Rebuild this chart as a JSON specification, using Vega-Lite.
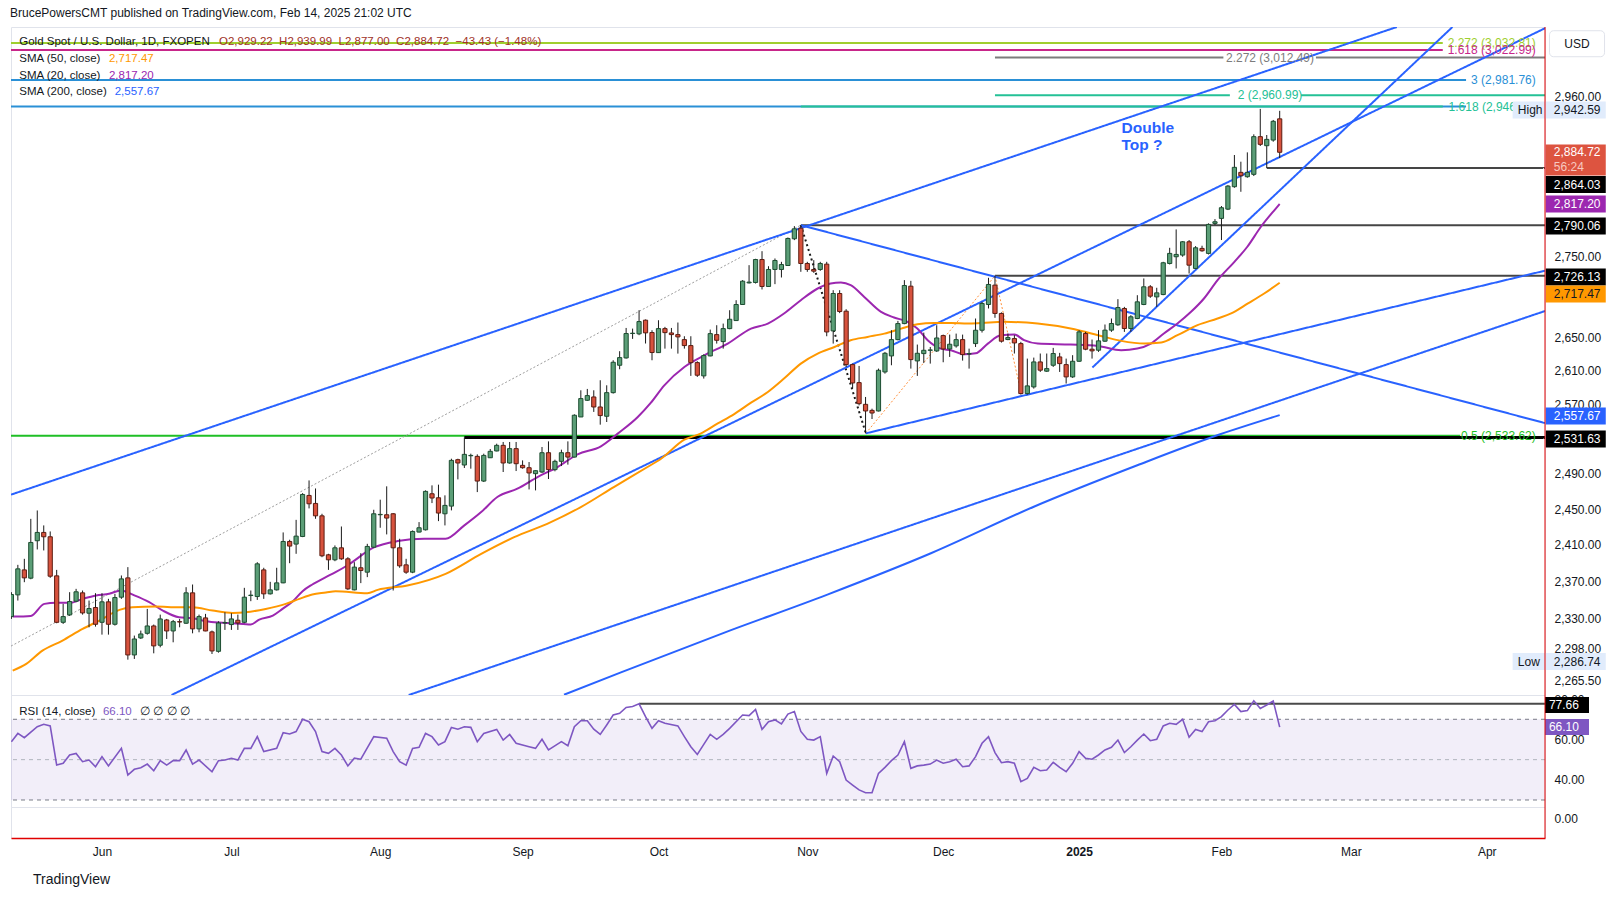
{
"$schema": "https://vega.github.io/schema/vega-lite/v6.json",
"autosize": {"type": "pad"},
"padding": {"left": 10, "top": 7, "right": 5, "bottom": 5},
"background": "white",
"title": {"text": "BrucePowersCMT published on TradingView.com, Feb 14, 2025 21:02 UTC", "anchor": "start", "offset": 6, "fontSize": 12, "font": "Liberation Sans", "fontWeight": "normal", "color": "#131722"},
"config": {
  "view": {"stroke": "#e0e3eb", "strokeWidth": 1},
  "axis": {"grid": false, "ticks": false, "tickSize": 0, "domain": false, "labelFont": "Liberation Sans", "labelFontSize": 12, "labelColor": "#131722", "labelOverlap": false, "title": null},
  "text": {"font": "Liberation Sans"}
},
"datasets": {
  "bars": [
{"i":-14,"o":2332.3,"h":2358.5,"l":2329.8,"c":2356.0},
{"i":-13,"o":2355.6,"h":2388.2,"l":2349.5,"c":2383.8},
{"i":-12,"o":2382.7,"h":2394.8,"l":2369.3,"c":2374.0},
{"i":-11,"o":2373.7,"h":2439.0,"l":2372.5,"c":2412.8},
{"i":-10,"o":2414.7,"h":2448.4,"l":2405.1,"c":2423.9},
{"i":-9,"o":2423.9,"h":2431.7,"l":2404.0,"c":2419.1},
{"i":-8,"o":2419.1,"h":2425.0,"l":2374.0,"c":2375.8},
{"i":-7,"o":2376.2,"h":2382.7,"l":2325.2,"c":2326.2},
{"i":-6,"o":2326.2,"h":2345.9,"l":2324.5,"c":2332.3},
{"i":-5,"o":2334.1,"h":2358.5,"l":2333.0,"c":2348.4},
{"i":-4,"o":2348.8,"h":2362.1,"l":2347.7,"c":2358.9},
{"i":-3,"o":2357.8,"h":2360.3,"l":2334.4,"c":2336.2},
{"i":-2,"o":2335.9,"h":2349.5,"l":2320.9,"c":2340.9},
{"i":-1,"o":2342.0,"h":2357.4,"l":2321.6,"c":2324.1},
{"i":0,"o":2326.2,"h":2357.4,"l":2313.1,"c":2348.1},
{"i":1,"o":2348.1,"h":2351.3,"l":2313.1,"c":2324.1},
{"i":2,"o":2324.1,"h":2356.7,"l":2322.7,"c":2352.7},
{"i":3,"o":2353.1,"h":2376.6,"l":2351.3,"c":2372.9},
{"i":4,"o":2374.0,"h":2385.7,"l":2286.74,"c":2291.7},
{"i":5,"o":2291.7,"h":2312.1,"l":2287.5,"c":2308.5},
{"i":6,"o":2309.6,"h":2317.4,"l":2308.5,"c":2313.8},
{"i":7,"o":2314.5,"h":2340.5,"l":2313.1,"c":2322.3},
{"i":8,"o":2322.3,"h":2323.8,"l":2293.4,"c":2301.2},
{"i":9,"o":2301.9,"h":2334.4,"l":2299.7,"c":2329.8},
{"i":10,"o":2328.7,"h":2329.8,"l":2308.5,"c":2317.0},
{"i":11,"o":2317.0,"h":2328.7,"l":2305.0,"c":2326.9},
{"i":12,"o":2326.9,"h":2329.8,"l":2320.9,"c":2326.5},
{"i":13,"o":2325.2,"h":2363.9,"l":2324.5,"c":2357.8},
{"i":14,"o":2357.8,"h":2366.8,"l":2314.5,"c":2319.2},
{"i":15,"o":2319.2,"h":2334.4,"l":2315.6,"c":2332.3},
{"i":16,"o":2330.9,"h":2335.2,"l":2316.7,"c":2317.0},
{"i":17,"o":2316.0,"h":2317.4,"l":2292.7,"c":2295.9},
{"i":18,"o":2295.5,"h":2327.3,"l":2294.1,"c":2325.5},
{"i":19,"o":2325.5,"h":2336.9,"l":2318.1,"c":2326.0},
{"i":20,"o":2323.8,"h":2335.9,"l":2318.1,"c":2329.8},
{"i":21,"o":2328.4,"h":2334.4,"l":2318.1,"c":2325.5},
{"i":22,"o":2326.2,"h":2363.2,"l":2325.2,"c":2353.1},
{"i":23,"o":2354.9,"h":2360.3,"l":2348.8,"c":2355.3},
{"i":24,"o":2353.8,"h":2391.1,"l":2350.2,"c":2389.3},
{"i":25,"o":2382.7,"h":2385.0,"l":2351.3,"c":2356.7},
{"i":26,"o":2356.7,"h":2369.7,"l":2356.0,"c":2361.0},
{"i":27,"o":2361.0,"h":2385.0,"l":2360.3,"c":2368.6},
{"i":28,"o":2368.6,"h":2423.9,"l":2368.2,"c":2413.9},
{"i":29,"o":2413.9,"h":2415.8,"l":2390.0,"c":2408.8},
{"i":30,"o":2411.0,"h":2437.9,"l":2400.3,"c":2419.8},
{"i":31,"o":2419.4,"h":2467.9,"l":2418.7,"c":2466.4},
{"i":32,"o":2465.3,"h":2482.3,"l":2450.7,"c":2455.9},
{"i":33,"o":2456.3,"h":2473.2,"l":2439.1,"c":2442.4},
{"i":34,"o":2442.4,"h":2444.7,"l":2396.6,"c":2398.1},
{"i":35,"o":2399.2,"h":2400.3,"l":2382.7,"c":2393.7},
{"i":36,"o":2393.7,"h":2409.5,"l":2392.2,"c":2406.9},
{"i":37,"o":2406.9,"h":2430.5,"l":2393.7,"c":2394.8},
{"i":38,"o":2394.8,"h":2396.6,"l":2361.0,"c":2362.1},
{"i":39,"o":2361.0,"h":2391.1,"l":2360.5,"c":2385.7},
{"i":40,"o":2385.0,"h":2401.0,"l":2368.3,"c":2382.0},
{"i":41,"o":2380.2,"h":2411.3,"l":2374.8,"c":2408.4},
{"i":42,"o":2407.6,"h":2449.2,"l":2406.9,"c":2444.7},
{"i":43,"o":2443.6,"h":2460.5,"l":2429.1,"c":2444.0},
{"i":44,"o":2443.6,"h":2475.6,"l":2421.7,"c":2439.9},
{"i":45,"o":2444.7,"h":2445.5,"l":2360.3,"c":2406.9},
{"i":46,"o":2406.9,"h":2416.9,"l":2385.0,"c":2387.1},
{"i":47,"o":2388.2,"h":2394.8,"l":2378.4,"c":2380.2},
{"i":48,"o":2380.2,"h":2426.1,"l":2379.1,"c":2425.0},
{"i":49,"o":2424.3,"h":2435.4,"l":2424.0,"c":2429.1},
{"i":50,"o":2426.8,"h":2471.0,"l":2426.1,"c":2469.9},
{"i":51,"o":2467.2,"h":2476.7,"l":2456.7,"c":2462.4},
{"i":52,"o":2462.7,"h":2477.5,"l":2436.5,"c":2445.5},
{"i":53,"o":2444.7,"h":2465.4,"l":2431.7,"c":2454.1},
{"i":54,"o":2453.3,"h":2507.1,"l":2448.5,"c":2505.2},
{"i":55,"o":2506.0,"h":2507.1,"l":2483.5,"c":2502.2},
{"i":56,"o":2499.9,"h":2531.63,"l":2496.5,"c":2512.1},
{"i":57,"o":2510.5,"h":2512.9,"l":2495.7,"c":2510.9},
{"i":58,"o":2509.8,"h":2512.1,"l":2469.1,"c":2481.6},
{"i":59,"o":2481.6,"h":2512.9,"l":2480.5,"c":2510.9},
{"i":60,"o":2508.2,"h":2518.3,"l":2507.9,"c":2515.6},
{"i":61,"o":2516.0,"h":2524.4,"l":2515.6,"c":2522.5},
{"i":62,"o":2522.5,"h":2526.4,"l":2491.9,"c":2502.2},
{"i":63,"o":2502.2,"h":2526.4,"l":2501.4,"c":2518.7},
{"i":64,"o":2518.7,"h":2526.4,"l":2493.0,"c":2501.4},
{"i":65,"o":2499.5,"h":2505.2,"l":2495.7,"c":2496.8},
{"i":66,"o":2496.8,"h":2503.3,"l":2472.1,"c":2490.8},
{"i":67,"o":2490.0,"h":2493.8,"l":2471.0,"c":2493.4},
{"i":68,"o":2491.9,"h":2520.6,"l":2490.8,"c":2514.0},
{"i":69,"o":2514.0,"h":2527.1,"l":2483.9,"c":2494.6},
{"i":70,"o":2494.6,"h":2506.0,"l":2492.7,"c":2504.1},
{"i":71,"o":2504.1,"h":2517.5,"l":2498.7,"c":2514.0},
{"i":72,"o":2514.0,"h":2527.1,"l":2500.3,"c":2509.0},
{"i":73,"o":2509.0,"h":2558.6,"l":2508.6,"c":2557.5},
{"i":74,"o":2555.5,"h":2586.9,"l":2555.5,"c":2577.1},
{"i":75,"o":2575.1,"h":2588.5,"l":2574.3,"c":2580.6},
{"i":76,"o":2579.0,"h":2586.9,"l":2561.4,"c":2567.2},
{"i":77,"o":2567.2,"h":2598.8,"l":2546.5,"c":2557.1},
{"i":78,"o":2556.3,"h":2592.8,"l":2549.6,"c":2584.1},
{"i":79,"o":2584.1,"h":2622.7,"l":2583.0,"c":2620.3},
{"i":80,"o":2616.7,"h":2633.6,"l":2611.9,"c":2625.9},
{"i":81,"o":2625.5,"h":2661.8,"l":2624.7,"c":2655.0},
{"i":82,"o":2655.0,"h":2661.0,"l":2648.5,"c":2655.4},
{"i":83,"o":2654.6,"h":2683.5,"l":2653.0,"c":2669.6},
{"i":84,"o":2671.3,"h":2672.1,"l":2642.9,"c":2655.8},
{"i":85,"o":2656.2,"h":2659.0,"l":2622.7,"c":2632.0},
{"i":86,"o":2631.9,"h":2671.2,"l":2631.5,"c":2661.0},
{"i":87,"o":2661.0,"h":2663.1,"l":2636.7,"c":2656.1},
{"i":88,"o":2655.7,"h":2661.8,"l":2636.7,"c":2653.7},
{"i":89,"o":2653.7,"h":2668.4,"l":2630.7,"c":2650.9},
{"i":90,"o":2647.6,"h":2651.7,"l":2636.7,"c":2640.4},
{"i":91,"o":2640.4,"h":2651.7,"l":2604.0,"c":2619.9},
{"i":92,"o":2619.9,"h":2621.5,"l":2602.8,"c":2604.8},
{"i":93,"o":2604.0,"h":2629.9,"l":2600.8,"c":2628.3},
{"i":94,"o":2627.9,"h":2659.8,"l":2627.5,"c":2654.9},
{"i":95,"o":2653.7,"h":2665.1,"l":2642.8,"c":2646.8},
{"i":96,"o":2645.2,"h":2667.1,"l":2636.7,"c":2661.0},
{"i":97,"o":2661.0,"h":2683.5,"l":2660.2,"c":2672.4},
{"i":98,"o":2670.8,"h":2695.8,"l":2670.4,"c":2690.5},
{"i":99,"o":2690.5,"h":2720.7,"l":2690.5,"c":2719.4},
{"i":100,"o":2717.3,"h":2739.4,"l":2716.5,"c":2718.2},
{"i":101,"o":2717.8,"h":2747.4,"l":2716.5,"c":2746.5},
{"i":102,"o":2746.5,"h":2757.0,"l":2709.1,"c":2712.8},
{"i":103,"o":2712.8,"h":2738.1,"l":2712.4,"c":2734.0},
{"i":104,"o":2734.0,"h":2747.8,"l":2715.7,"c":2745.3},
{"i":105,"o":2734.0,"h":2743.6,"l":2724.0,"c":2740.2},
{"i":106,"o":2739.0,"h":2774.3,"l":2738.5,"c":2773.1},
{"i":107,"o":2772.7,"h":2788.8,"l":2771.0,"c":2785.4},
{"i":108,"o":2786.2,"h":2790.06,"l":2731.1,"c":2741.5},
{"i":109,"o":2741.5,"h":2743.6,"l":2731.1,"c":2734.0},
{"i":110,"o":2734.0,"h":2745.7,"l":2729.8,"c":2731.9},
{"i":111,"o":2734.0,"h":2743.6,"l":2732.3,"c":2741.5},
{"i":112,"o":2740.7,"h":2743.6,"l":2651.7,"c":2656.9},
{"i":113,"o":2658.2,"h":2708.2,"l":2642.8,"c":2704.1},
{"i":114,"o":2704.1,"h":2708.2,"l":2679.9,"c":2681.9},
{"i":115,"o":2682.3,"h":2684.7,"l":2614.7,"c":2617.5},
{"i":116,"o":2617.5,"h":2618.7,"l":2588.9,"c":2595.6},
{"i":117,"o":2596.0,"h":2615.9,"l":2569.1,"c":2571.1},
{"i":118,"o":2570.3,"h":2579.0,"l":2536.4,"c":2562.5},
{"i":119,"o":2563.2,"h":2565.2,"l":2553.1,"c":2560.1},
{"i":120,"o":2562.5,"h":2612.7,"l":2562.0,"c":2610.7},
{"i":121,"o":2608.7,"h":2632.7,"l":2606.7,"c":2631.1},
{"i":122,"o":2627.9,"h":2659.0,"l":2616.7,"c":2647.6},
{"i":123,"o":2647.6,"h":2670.4,"l":2646.8,"c":2667.1},
{"i":124,"o":2667.1,"h":2720.7,"l":2666.3,"c":2714.0},
{"i":125,"o":2713.2,"h":2719.8,"l":2612.7,"c":2623.5},
{"i":126,"o":2621.9,"h":2641.6,"l":2604.0,"c":2631.1},
{"i":127,"o":2630.7,"h":2656.1,"l":2619.5,"c":2634.7},
{"i":128,"o":2634.7,"h":2638.7,"l":2618.7,"c":2635.1},
{"i":129,"o":2633.9,"h":2665.1,"l":2632.7,"c":2649.6},
{"i":130,"o":2652.5,"h":2653.7,"l":2620.3,"c":2636.3},
{"i":131,"o":2636.3,"h":2653.7,"l":2626.7,"c":2642.0},
{"i":132,"o":2640.0,"h":2654.9,"l":2637.9,"c":2647.6},
{"i":133,"o":2647.6,"h":2653.7,"l":2622.3,"c":2629.5},
{"i":134,"o":2630.3,"h":2636.7,"l":2612.7,"c":2630.7},
{"i":135,"o":2642.8,"h":2673.3,"l":2638.7,"c":2659.0},
{"i":136,"o":2659.0,"h":2693.8,"l":2656.2,"c":2691.8},
{"i":137,"o":2690.5,"h":2723.6,"l":2685.6,"c":2715.3},
{"i":138,"o":2714.5,"h":2726.13,"l":2674.2,"c":2679.5},
{"i":139,"o":2679.5,"h":2680.8,"l":2644.0,"c":2645.7},
{"i":140,"o":2647.7,"h":2655.0,"l":2646.9,"c":2650.1},
{"i":141,"o":2648.9,"h":2653.0,"l":2630.8,"c":2643.6},
{"i":142,"o":2642.8,"h":2644.9,"l":2581.8,"c":2583.0},
{"i":143,"o":2583.0,"h":2624.7,"l":2581.8,"c":2592.1},
{"i":144,"o":2590.9,"h":2625.9,"l":2588.9,"c":2620.7},
{"i":145,"o":2620.7,"h":2630.8,"l":2608.7,"c":2610.8},
{"i":146,"o":2609.6,"h":2630.8,"l":2608.7,"c":2612.7},
{"i":147,"o":2616.7,"h":2637.6,"l":2614.7,"c":2630.8},
{"i":148,"o":2626.7,"h":2631.6,"l":2608.7,"c":2618.7},
{"i":149,"o":2617.5,"h":2624.7,"l":2594.9,"c":2602.8},
{"i":150,"o":2602.8,"h":2628.8,"l":2601.6,"c":2621.5},
{"i":151,"o":2621.5,"h":2659.1,"l":2620.7,"c":2657.0},
{"i":152,"o":2655.0,"h":2657.0,"l":2634.8,"c":2636.0},
{"i":153,"o":2636.0,"h":2647.7,"l":2624.7,"c":2634.0},
{"i":154,"o":2634.8,"h":2659.1,"l":2632.8,"c":2646.1},
{"i":155,"o":2645.7,"h":2666.0,"l":2644.9,"c":2659.1},
{"i":156,"o":2659.1,"h":2673.3,"l":2657.0,"c":2667.2},
{"i":157,"o":2665.6,"h":2697.1,"l":2664.4,"c":2686.8},
{"i":158,"o":2685.6,"h":2687.6,"l":2657.0,"c":2661.1},
{"i":159,"o":2661.1,"h":2677.4,"l":2657.0,"c":2675.4},
{"i":160,"o":2673.3,"h":2702.0,"l":2672.5,"c":2693.8},
{"i":161,"o":2690.5,"h":2722.8,"l":2689.7,"c":2712.4},
{"i":162,"o":2712.4,"h":2714.5,"l":2698.7,"c":2700.8},
{"i":163,"o":2699.9,"h":2711.2,"l":2687.6,"c":2704.9},
{"i":164,"o":2702.8,"h":2743.6,"l":2702.0,"c":2742.4},
{"i":165,"o":2741.5,"h":2761.3,"l":2740.3,"c":2754.2},
{"i":166,"o":2750.0,"h":2784.6,"l":2735.3,"c":2752.9},
{"i":167,"o":2752.1,"h":2769.8,"l":2750.0,"c":2768.9},
{"i":168,"o":2768.9,"h":2771.1,"l":2728.9,"c":2739.4},
{"i":169,"o":2735.3,"h":2763.4,"l":2734.4,"c":2761.3},
{"i":170,"o":2760.5,"h":2763.9,"l":2756.3,"c":2757.5},
{"i":171,"o":2754.2,"h":2792.3,"l":2752.9,"c":2791.0},
{"i":172,"o":2792.3,"h":2797.8,"l":2790.2,"c":2794.4},
{"i":173,"o":2798.7,"h":2814.6,"l":2771.1,"c":2812.4},
{"i":174,"o":2810.6,"h":2841.7,"l":2809.4,"c":2840.4},
{"i":175,"o":2839.6,"h":2881.1,"l":2838.2,"c":2864.9},
{"i":176,"o":2858.3,"h":2872.3,"l":2833.0,"c":2853.9},
{"i":177,"o":2852.6,"h":2884.6,"l":2851.3,"c":2858.3},
{"i":178,"o":2855.7,"h":2908.5,"l":2853.5,"c":2905.4},
{"i":179,"o":2905.4,"h":2942.59,"l":2893.0,"c":2895.2},
{"i":180,"o":2893.4,"h":2907.6,"l":2864.03,"c":2901.8},
{"i":181,"o":2900.9,"h":2927.7,"l":2898.7,"c":2925.9},
{"i":182,"o":2929.22,"h":2939.99,"l":2877.0,"c":2884.72}
  ],
  "sma": [
{"i":-13.8,"m":"20","v":2332.3},{"i":-11,"m":"20","v":2333.0},{"i":-8.9,"m":"20","v":2345.9},{"i":-7.1,"m":"20","v":2347.0},{"i":-5,"m":"20","v":2347.0},{"i":-3,"m":"20","v":2351.3},{"i":-0.9,"m":"20","v":2355.0},{"i":1.1,"m":"20","v":2356.7},{"i":2.9,"m":"20","v":2360.3},{"i":5,"m":"20","v":2355.0},{"i":7.3,"m":"20","v":2347.7},{"i":9.4,"m":"20","v":2338.7},{"i":11.9,"m":"20","v":2331.6},{"i":14,"m":"20","v":2330.5},{"i":16.1,"m":"20","v":2327.3},{"i":18.1,"m":"20","v":2325.9},{"i":20.2,"m":"20","v":2325.2},{"i":23,"m":"20","v":2323.8},{"i":24.3,"m":"20","v":2329.1},{"i":26.4,"m":"20","v":2333.4},{"i":27.9,"m":"20","v":2340.5},{"i":29.5,"m":"20","v":2348.8},{"i":31,"m":"20","v":2359.6},{"i":32.5,"m":"20","v":2366.8},{"i":34.6,"m":"20","v":2374.8},{"i":36.1,"m":"20","v":2380.2},{"i":37.9,"m":"20","v":2387.5},{"i":42.1,"m":"20","v":2407.6},{"i":45.7,"m":"20","v":2414.3},{"i":49.8,"m":"20","v":2416.9},{"i":53.1,"m":"20","v":2416.9},{"i":56,"m":"20","v":2431.7},{"i":58.6,"m":"20","v":2446.6},{"i":61.1,"m":"20","v":2463.5},{"i":64.2,"m":"20","v":2472.9},{"i":67.3,"m":"20","v":2486.2},{"i":70.4,"m":"20","v":2497.6},{"i":73.5,"m":"20","v":2512.1},{"i":77.1,"m":"20","v":2521.4},{"i":79.7,"m":"20","v":2536.1},{"i":82.8,"m":"20","v":2555.5},{"i":84.8,"m":"20","v":2572.0},{"i":86.9,"m":"20","v":2592.8},{"i":90,"m":"20","v":2614.7},{"i":93.1,"m":"20","v":2628.7},{"i":96.7,"m":"20","v":2642.8},{"i":100.3,"m":"20","v":2661.0},{"i":102.9,"m":"20","v":2667.1},{"i":105.4,"m":"20","v":2679.4},{"i":108,"m":"20","v":2695.8},{"i":110.6,"m":"20","v":2710.3},{"i":112.6,"m":"20","v":2716.5},{"i":114.2,"m":"20","v":2717.7},{"i":115.7,"m":"20","v":2714.4},{"i":117.8,"m":"20","v":2699.9},{"i":120.4,"m":"20","v":2681.5},{"i":122.4,"m":"20","v":2674.5},{"i":124.5,"m":"20","v":2669.2},{"i":126,"m":"20","v":2661.0},{"i":127.6,"m":"20","v":2646.8},{"i":129.6,"m":"20","v":2636.7},{"i":131.2,"m":"20","v":2634.7},{"i":133.2,"m":"20","v":2629.9},{"i":135,"m":"20","v":2631.0},{"i":136.9,"m":"20","v":2642.8},{"i":138.9,"m":"20","v":2653.0},{"i":141,"m":"20","v":2653.8},{"i":142.5,"m":"20","v":2646.9},{"i":144.6,"m":"20","v":2642.8},{"i":149.7,"m":"20","v":2641.6},{"i":153.9,"m":"20","v":2640.0},{"i":157.5,"m":"20","v":2634.8},{"i":160,"m":"20","v":2636.8},{"i":162.1,"m":"20","v":2642.8},{"i":164.1,"m":"20","v":2655.0},{"i":166.2,"m":"20","v":2667.2},{"i":168.3,"m":"20","v":2681.5},{"i":170.3,"m":"20","v":2697.9},{"i":172.4,"m":"20","v":2720.7},{"i":175,"m":"20","v":2743.6},{"i":177,"m":"20","v":2762.6},{"i":179.1,"m":"20","v":2788.0},{"i":181.2,"m":"20","v":2809.4},{"i":182,"m":"20","v":2817.2},
{"i":-13.8,"m":"50","v":2275.3},{"i":-11.7,"m":"50","v":2282.3},{"i":-9.2,"m":"50","v":2296.2},{"i":-6.1,"m":"50","v":2306.8},{"i":-3,"m":"50","v":2319.2},{"i":-0.4,"m":"50","v":2328.0},{"i":2.7,"m":"50","v":2339.5},{"i":4.7,"m":"50","v":2342.3},{"i":8.3,"m":"50","v":2343.0},{"i":11.9,"m":"50","v":2342.3},{"i":14,"m":"50","v":2342.3},{"i":17.1,"m":"50","v":2338.7},{"i":20.2,"m":"50","v":2336.2},{"i":22.2,"m":"50","v":2336.9},{"i":25.3,"m":"50","v":2340.5},{"i":28.4,"m":"50","v":2345.9},{"i":30.5,"m":"50","v":2351.3},{"i":32.5,"m":"50","v":2356.0},{"i":34.6,"m":"50","v":2358.1},{"i":36.1,"m":"50","v":2359.6},{"i":41,"m":"50","v":2357.3},{"i":42.6,"m":"50","v":2361.0},{"i":47.2,"m":"50","v":2365.7},{"i":53.1,"m":"50","v":2378.4},{"i":58.6,"m":"50","v":2400.3},{"i":63.7,"m":"50","v":2418.7},{"i":68.8,"m":"50","v":2433.5},{"i":74,"m":"50","v":2452.2},{"i":79.1,"m":"50","v":2474.8},{"i":84.3,"m":"50","v":2497.6},{"i":86.4,"m":"50","v":2507.1},{"i":90,"m":"50","v":2529.0},{"i":92.5,"m":"50","v":2536.0},{"i":95.1,"m":"50","v":2547.6},{"i":97.7,"m":"50","v":2558.9},{"i":100.3,"m":"50","v":2572.3},{"i":102.9,"m":"50","v":2584.9},{"i":105.4,"m":"50","v":2600.8},{"i":108,"m":"50","v":2618.7},{"i":110.6,"m":"50","v":2630.7},{"i":113.2,"m":"50","v":2638.7},{"i":115.7,"m":"50","v":2646.8},{"i":118.3,"m":"50","v":2650.9},{"i":120.9,"m":"50","v":2654.9},{"i":123.5,"m":"50","v":2661.0},{"i":126,"m":"50","v":2666.3},{"i":128.6,"m":"50","v":2667.9},{"i":131.2,"m":"50","v":2667.9},{"i":133.8,"m":"50","v":2667.1},{"i":136,"m":"50","v":2667.9},{"i":139.4,"m":"50","v":2669.2},{"i":144.6,"m":"50","v":2667.2},{"i":149.7,"m":"50","v":2661.1},{"i":154.9,"m":"50","v":2650.9},{"i":157.5,"m":"50","v":2646.1},{"i":161.1,"m":"50","v":2642.8},{"i":163.7,"m":"50","v":2644.0},{"i":166.2,"m":"50","v":2653.0},{"i":169.3,"m":"50","v":2665.2},{"i":172.4,"m":"50","v":2673.3},{"i":174.5,"m":"50","v":2679.5},{"i":177.1,"m":"50","v":2691.8},{"i":179.6,"m":"50","v":2704.1},{"i":182,"m":"50","v":2717.47},
{"i":71.4,"m":"200","v":2250.3},{"i":80.2,"m":"200","v":2273.5},{"i":96.1,"m":"200","v":2315.0},{"i":112.1,"m":"200","v":2355.9},{"i":128.1,"m":"200","v":2400.9},{"i":144,"m":"200","v":2452.6},{"i":160,"m":"200","v":2499.6},{"i":172.8,"m":"200","v":2535.3},{"i":182,"m":"200","v":2557.67}
  ],
  "rsi": [
{"i":-14,"r":58.9},{"i":-13,"r":63.0},{"i":-12,"r":60.9},{"i":-10,"r":66.3},{"i":-9,"r":67.5},{"i":-8,"r":66.7},{"i":-7,"r":47.3},{"i":-6,"r":48.2},{"i":-5,"r":52.3},{"i":-4,"r":53.1},{"i":-3,"r":49.0},{"i":-2,"r":49.8},{"i":-1,"r":46.5},{"i":0,"r":51.5},{"i":1,"r":46.9},{"i":3,"r":55.6},{"i":4,"r":42.4},{"i":5,"r":45.2},{"i":6,"r":46.0},{"i":7,"r":47.8},{"i":8,"r":44.5},{"i":9,"r":49.5},{"i":10,"r":47.3},{"i":11,"r":49.5},{"i":12,"r":49.5},{"i":13,"r":54.8},{"i":14,"r":47.8},{"i":15,"r":49.8},{"i":17,"r":44.0},{"i":18,"r":49.5},{"i":19,"r":49.8},{"i":20,"r":50.7},{"i":21,"r":49.8},{"i":22,"r":55.6},{"i":23,"r":55.6},{"i":24,"r":61.4},{"i":25,"r":54.0},{"i":27,"r":55.6},{"i":28,"r":63.4},{"i":29,"r":62.7},{"i":30,"r":63.9},{"i":31,"r":70.0},{"i":32,"r":68.8},{"i":33,"r":63.9},{"i":34,"r":54.0},{"i":35,"r":53.1},{"i":36,"r":55.6},{"i":37,"r":52.3},{"i":38,"r":46.9},{"i":39,"r":50.7},{"i":40,"r":50.2},{"i":42,"r":61.4},{"i":44,"r":60.6},{"i":45,"r":54.0},{"i":46,"r":49.0},{"i":47,"r":47.3},{"i":48,"r":55.6},{"i":49,"r":56.1},{"i":50,"r":63.0},{"i":51,"r":61.4},{"i":52,"r":57.3},{"i":53,"r":58.9},{"i":54,"r":66.0},{"i":55,"r":65.1},{"i":56,"r":66.3},{"i":57,"r":66.0},{"i":58,"r":58.9},{"i":59,"r":63.0},{"i":61,"r":65.0},{"i":62,"r":59.7},{"i":63,"r":62.5},{"i":64,"r":58.1},{"i":66,"r":56.4},{"i":67,"r":55.6},{"i":68,"r":60.1},{"i":69,"r":54.8},{"i":71,"r":58.9},{"i":72,"r":56.9},{"i":73,"r":66.3},{"i":74,"r":69.3},{"i":75,"r":69.3},{"i":76,"r":65.1},{"i":77,"r":62.5},{"i":78,"r":67.2},{"i":79,"r":72.1},{"i":80,"r":73.0},{"i":81,"r":75.9},{"i":82,"r":76.3},{"i":83,"r":77.66},{"i":84,"r":71.3},{"i":85,"r":65.5},{"i":86,"r":69.3},{"i":87,"r":68.0},{"i":89,"r":66.7},{"i":90,"r":61.4},{"i":91,"r":56.4},{"i":92,"r":52.6},{"i":93,"r":57.6},{"i":94,"r":62.5},{"i":95,"r":60.1},{"i":96,"r":62.5},{"i":97,"r":65.5},{"i":99,"r":72.1},{"i":100,"r":71.8},{"i":101,"r":74.9},{"i":102,"r":65.0},{"i":103,"r":68.8},{"i":104,"r":69.7},{"i":105,"r":67.7},{"i":106,"r":72.6},{"i":107,"r":73.8},{"i":108,"r":64.0},{"i":109,"r":60.1},{"i":110,"r":59.7},{"i":111,"r":61.4},{"i":112,"r":43.2},{"i":113,"r":51.8},{"i":114,"r":49.0},{"i":115,"r":39.9},{"i":116,"r":37.4},{"i":117,"r":35.0},{"i":118,"r":33.6},{"i":119,"r":33.6},{"i":120,"r":43.2},{"i":121,"r":46.2},{"i":122,"r":49.5},{"i":123,"r":52.3},{"i":124,"r":58.9},{"i":125,"r":45.7},{"i":126,"r":46.9},{"i":127,"r":47.3},{"i":128,"r":47.8},{"i":129,"r":49.8},{"i":130,"r":48.2},{"i":131,"r":49.0},{"i":132,"r":50.2},{"i":133,"r":46.5},{"i":134,"r":46.9},{"i":135,"r":51.5},{"i":136,"r":58.1},{"i":137,"r":61.4},{"i":138,"r":53.5},{"i":139,"r":48.5},{"i":140,"r":49.0},{"i":141,"r":48.2},{"i":142,"r":39.1},{"i":143,"r":40.7},{"i":144,"r":46.2},{"i":145,"r":44.5},{"i":146,"r":44.9},{"i":147,"r":48.7},{"i":148,"r":46.2},{"i":149,"r":44.0},{"i":150,"r":48.2},{"i":151,"r":54.0},{"i":152,"r":50.7},{"i":153,"r":50.2},{"i":154,"r":52.3},{"i":155,"r":54.8},{"i":156,"r":56.1},{"i":157,"r":59.7},{"i":158,"r":53.5},{"i":159,"r":56.4},{"i":160,"r":59.7},{"i":161,"r":62.7},{"i":162,"r":59.4},{"i":163,"r":60.1},{"i":164,"r":66.7},{"i":165,"r":68.0},{"i":166,"r":67.5},{"i":167,"r":70.0},{"i":168,"r":61.1},{"i":169,"r":65.0},{"i":170,"r":63.9},{"i":171,"r":68.8},{"i":172,"r":69.3},{"i":173,"r":71.3},{"i":174,"r":74.6},{"i":175,"r":77.4},{"i":176,"r":73.8},{"i":177,"r":74.3},{"i":178,"r":79.2},{"i":179,"r":75.4},{"i":180,"r":77.1},{"i":181,"r":79.1},{"i":182,"r":66.1}
  ],
  "drawings": [
{"x0":-14.06,"p0":3032.81,"x1":207.2,"p1":3032.81,"kind":"lime"},
{"x0":-14.06,"p0":3022.99,"x1":207.2,"p1":3022.99,"kind":"magenta"},
{"x0":138,"p0":3012.49,"x1":173.3,"p1":3012.49,"kind":"gray"},
{"x0":187.6,"p0":3012.49,"x1":223,"p1":3012.49,"kind":"gray"},
{"x0":-14.06,"p0":2981.76,"x1":210.8,"p1":2981.76,"kind":"fibblue"},
{"x0":138,"p0":2960.99,"x1":174.3,"p1":2960.99,"kind":"teal"},
{"x0":185.3,"p0":2960.99,"x1":223,"p1":2960.99,"kind":"teal"},
{"x0":-14.06,"p0":2945.8,"x1":210.8,"p1":2945.8,"kind":"fibblue"},
{"x0":108,"p0":2945.8,"x1":207.2,"p1":2945.8,"kind":"teal"},
{"x0":180,"p0":2864.03,"x1":223,"p1":2864.03,"kind":"level"},
{"x0":108,"p0":2790.06,"x1":223,"p1":2790.06,"kind":"level"},
{"x0":138,"p0":2726.13,"x1":223,"p1":2726.13,"kind":"level"},
{"x0":-14.06,"p0":2533.62,"x1":209.9,"p1":2533.62,"kind":"green"},
{"x0":56,"p0":2531.63,"x1":223,"p1":2531.63,"kind":"black"},
{"x0":-14.06,"p0":2301.0,"x1":108,"p1":2790.06,"kind":"dotgray"},
{"x0":108,"p0":2790.06,"x1":118.05,"p1":2536.4,"kind":"dotblack"},
{"x0":118.05,"p0":2536.4,"x1":138,"p1":2726.13,"kind":"dotorange"},
{"x0":138,"p0":2726.13,"x1":142,"p1":2585.0,"kind":"dotorange"},
{"x0":-14.06,"p0":2466.2,"x1":200.1,"p1":3055.0,"kind":"trend"},
{"x0":10.75,"p0":2250.05,"x1":223,"p1":3053.3,"kind":"trend"},
{"x0":153.06,"p0":2614.0,"x1":208.7,"p1":3055.0,"kind":"trend"},
{"x0":118.05,"p0":2536.4,"x1":223,"p1":2732.5,"kind":"trend"},
{"x0":108,"p0":2790.06,"x1":223,"p1":2548.3,"kind":"trend"},
{"x0":47.4,"p0":2250.05,"x1":223,"p1":2682.5,"kind":"trend"}
  ]
},
"vconcat": [
{
  "width": 1534, "height": 668,
  "layer": [
    {
      "data": {"name": "drawings"},
      "mark": {"type": "rule", "clip": true},
      "encoding": {
        "x": {"field": "x0", "type": "quantitative", "scale": {"domain": [-14.06, 223], "nice": false, "zero": false, "padding": 0}, "axis": null},
        "x2": {"field": "x1"},
        "y": {"field": "p0", "type": "quantitative", "scale": {"type": "log", "domain": [2250.05, 3055.0], "nice": false, "zero": false, "padding": 0},
              "axis": {"orient": "right", "values": [2265.5, 2298, 2330, 2370, 2410, 2450, 2490, 2570, 2610, 2650, 2750, 2960], "format": ",.2f", "labelPadding": 9, "labelAlign": "left"}},
        "y2": {"field": "p1"},
        "color": {"field": "kind", "type": "nominal", "legend": null, "scale": {"domain": ["lime","magenta","gray","fibblue","teal","level","green","black","trend","dotgray","dotblack","dotorange","legend","legendred","sma20","sma50","sma200","close","lvlbox","hl"], "range": ["#9fcf2f","#c8268a","#7c7c7c","#2a90d6","#24c196","#454545","#1fbf26","#000000","#2962ff","#9e9e9e","#1a1a1a","#ff9340","#131722","#a03228","#9c27b0","#ff9800","#2962ff","#dd5440","#000000","#e1ecfc"]}},
        "strokeWidth": {"condition": [{"test": "datum.kind === 'black'", "value": 3}, {"test": "datum.kind === 'dotgray' || datum.kind === 'dotorange'", "value": 1}], "value": 2},
        "strokeDash": {"condition": [{"test": "datum.kind === 'dotblack'", "value": [2, 3]}, {"test": "datum.kind === 'dotgray' || datum.kind === 'dotorange'", "value": [2, 2]}], "value": [1, 0]}
      }
    },
    {
      "data": {"name": "sma"},
      "mark": {"type": "line", "clip": true, "strokeWidth": 2, "interpolate": "monotone"},
      "encoding": {
        "x": {"field": "i", "type": "quantitative"},
        "y": {"field": "v", "type": "quantitative"},
        "stroke": {"field": "m", "type": "nominal", "legend": null, "scale": {"domain": ["20", "50", "200"], "range": ["#9c27b0", "#ff9800", "#2962ff"]}}
      }
    },
    {
      "data": {"name": "bars"},
      "mark": {"type": "rule", "color": "#1a1a1a", "strokeWidth": 1, "clip": true},
      "encoding": {
        "x": {"field": "i", "type": "quantitative"},
        "y": {"field": "l", "type": "quantitative"},
        "y2": {"field": "h"}
      }
    },
    {
      "data": {"name": "bars"},
      "mark": {"type": "bar", "size": 4.2, "strokeWidth": 1, "clip": true},
      "encoding": {
        "x": {"field": "i", "type": "quantitative"},
        "y": {"field": "o", "type": "quantitative"},
        "y2": {"field": "c"},
        "fill": {"condition": {"test": "datum.c >= datum.o", "value": "#5b9e77"}, "value": "#d7523d"},
        "stroke": {"condition": {"test": "datum.c >= datum.o", "value": "#1d4d31"}, "value": "#5c1d12"}
      }
    },
    {
      "data": {"values": [
        {"p": 3032.81, "t": "2.272 (3,032.81)", "kind": "lime"},
        {"p": 3022.99, "t": "1.618 (3,022.99)", "kind": "magenta"},
        {"p": 2981.76, "t": "3 (2,981.76)", "kind": "fibblue"},
        {"p": 2533.62, "t": "0.5 (2,533.62)", "kind": "green"}
      ]},
      "mark": {"type": "text", "align": "right", "baseline": "middle", "fontSize": 12},
      "encoding": {
        "x": {"datum": 221.57, "type": "quantitative"},
        "y": {"field": "p", "type": "quantitative"},
        "text": {"field": "t"},
        "color": {"field": "kind", "type": "nominal", "legend": null}
      }
    },
    {
      "data": {"values": [
        {"p": 3012.49, "t": "2.272 (3,012.49)", "kind": "gray"},
        {"p": 2960.99, "t": "2 (2,960.99)", "kind": "teal"}
      ]},
      "mark": {"type": "text", "align": "center", "baseline": "middle", "fontSize": 12},
      "encoding": {
        "x": {"datum": 180.5, "type": "quantitative"},
        "y": {"field": "p", "type": "quantitative"},
        "text": {"field": "t"},
        "color": {"field": "kind", "type": "nominal", "legend": null}
      }
    },
    {
      "data": {"values": [{"p": 2945.8, "t": "1.618 (2,946.09)", "kind": "teal"}]},
      "mark": {"type": "text", "align": "left", "baseline": "middle", "fontSize": 12},
      "encoding": {
        "x": {"datum": 208.1, "type": "quantitative"},
        "y": {"field": "p", "type": "quantitative"},
        "text": {"field": "t"},
        "color": {"field": "kind", "type": "nominal", "legend": null}
      }
    },
    {
      "data": {"values": [
        {"x": -12.78, "p": 3034.5, "t": "Gold Spot / U.S. Dollar, 1D, FXOPEN", "kind": "legend"},
        {"x": 18.08, "p": 3034.5, "t": "O2,929.22 \u00a0H2,939.99 \u00a0L2,877.00 \u00a0C2,884.72 \u00a0\u221243.43 (\u22121.48%)", "kind": "legendred"},
        {"x": -12.78, "p": 3010.6, "t": "SMA (50, close)", "kind": "legend"},
        {"x": 1.08, "p": 3010.6, "t": "2,717.47", "kind": "sma50"},
        {"x": -12.78, "p": 2987.2, "t": "SMA (20, close)", "kind": "legend"},
        {"x": 1.08, "p": 2987.2, "t": "2,817.20", "kind": "sma20"},
        {"x": -12.78, "p": 2965.0, "t": "SMA (200, close)", "kind": "legend"},
        {"x": 1.96, "p": 2965.0, "t": "2,557.67", "kind": "sma200"}
      ]},
      "mark": {"type": "text", "align": "left", "baseline": "middle", "fontSize": 11.5},
      "encoding": {
        "x": {"field": "x", "type": "quantitative"},
        "y": {"field": "p", "type": "quantitative"},
        "text": {"field": "t"},
        "color": {"field": "kind", "type": "nominal", "legend": null}
      }
    },
    {
      "data": {"values": [{"p": 2917.6, "t": "Double"}, {"p": 2895.0, "t": "Top ?"}]},
      "mark": {"type": "text", "align": "left", "baseline": "middle", "fontSize": 15.5, "fontWeight": "bold", "color": "#2962ff"},
      "encoding": {
        "x": {"datum": 157.56, "type": "quantitative"},
        "y": {"field": "p", "type": "quantitative"},
        "text": {"field": "t"}
      }
    },
    {
      "data": {"values": [{}]},
      "mark": {"type": "rect", "fill": "#ffffff", "stroke": "#e0e3eb", "strokeWidth": 1, "cornerRadius": 4},
      "encoding": {
        "x": {"datum": 223.7, "type": "quantitative"},
        "x2": {"datum": 232.2},
        "y": {"datum": 3049.8, "type": "quantitative"},
        "y2": {"datum": 3013.7}
      }
    },
    {
      "data": {"values": [
        {"at": 2874.5, "kind": "close"},
        {"at": 2842.4, "kind": "lvlbox"},
        {"at": 2817.2, "kind": "sma20"},
        {"at": 2789.0, "kind": "lvlbox"},
        {"at": 2724.6, "kind": "lvlbox"},
        {"at": 2703.5, "kind": "sma50"},
        {"at": 2556.6, "kind": "sma200"},
        {"at": 2529.8, "kind": "lvlbox"}
      ]},
      "mark": {"type": "rule", "strokeCap": "butt"},
      "encoding": {
        "x": {"datum": 223.12, "type": "quantitative"},
        "x2": {"datum": 232.39},
        "y": {"field": "at", "type": "quantitative"},
        "color": {"field": "kind", "type": "nominal", "legend": null},
        "strokeWidth": {"condition": {"test": "datum.kind === 'close'", "value": 31}, "value": 17}
      }
    },
    {
      "data": {"values": [{"at": 2941.1, "kind": "hl"}, {"at": 2284.8, "kind": "hl"}]},
      "mark": {"type": "rule", "strokeCap": "butt", "strokeWidth": 17},
      "encoding": {
        "x": {"datum": 218.0, "type": "quantitative"},
        "x2": {"datum": 232.39},
        "y": {"field": "at", "type": "quantitative"},
        "color": {"field": "kind", "type": "nominal", "legend": null}
      }
    },
    {
      "data": {"values": [
        {"at": 2884.72, "t": "2,884.72", "kind": "close"},
        {"at": 2865.3, "t": "56:24", "kind": "timer"},
        {"at": 2842.4, "t": "2,864.03", "kind": "lvlbox"},
        {"at": 2817.2, "t": "2,817.20", "kind": "sma20"},
        {"at": 2789.0, "t": "2,790.06", "kind": "lvlbox"},
        {"at": 2724.6, "t": "2,726.13", "kind": "lvlbox"},
        {"at": 2703.5, "t": "2,717.47", "kind": "sma50"},
        {"at": 2556.6, "t": "2,557.67", "kind": "sma200"},
        {"at": 2529.8, "t": "2,531.63", "kind": "lvlbox"},
        {"at": 2941.1, "t": "2,942.59", "kind": "hl"},
        {"at": 2284.8, "t": "2,286.74", "kind": "hl"}
      ]},
      "mark": {"type": "text", "align": "left", "baseline": "middle", "fontSize": 12},
      "encoding": {
        "x": {"datum": 224.36, "type": "quantitative"},
        "y": {"field": "at", "type": "quantitative"},
        "text": {"field": "t"},
        "fill": {"condition": [{"test": "datum.kind === 'hl' || datum.kind === 'sma50'", "value": "#131722"}, {"test": "datum.kind === 'timer'", "value": "#f7c9c1"}], "value": "#ffffff"}
      }
    },
    {
      "data": {"values": [{"at": 3031.3, "t": "USD"}]},
      "mark": {"type": "text", "align": "center", "baseline": "middle", "fontSize": 12, "color": "#131722"},
      "encoding": {
        "x": {"datum": 227.95, "type": "quantitative"},
        "y": {"field": "at", "type": "quantitative"},
        "text": {"field": "t"}
      }
    },
    {
      "data": {"values": [{"at": 2941.1, "t": "High"}, {"at": 2284.8, "t": "Low"}]},
      "mark": {"type": "text", "align": "left", "baseline": "middle", "fontSize": 12, "color": "#131722"},
      "encoding": {
        "x": {"datum": 218.8, "type": "quantitative"},
        "y": {"field": "at", "type": "quantitative"},
        "text": {"field": "t"}
      }
    },
    {
      "data": {"values": [{}]},
      "mark": {"type": "rule", "color": "#e00000", "strokeWidth": 1},
      "encoding": {"x": {"datum": 223, "type": "quantitative"}}
    }
  ]
},
{
  "width": 1534, "height": 112,
  "layer": [
    {
      "data": {"values": [{}]},
      "mark": {"type": "rect", "fill": "#7e57c2", "fillOpacity": 0.1},
      "encoding": {
        "x": {"datum": -14.06, "type": "quantitative", "scale": {"domain": [-14.06, 223], "nice": false, "zero": false, "padding": 0}, "axis": null},
        "x2": {"datum": 223},
        "y": {"datum": 30, "type": "quantitative", "scale": {"domain": [26.53, 82.04], "nice": false, "zero": false, "padding": 0}, "axis": {"orient": "right", "values": [40, 60, 80], "format": ".2f", "labelPadding": 9, "labelAlign": "left"}},
        "y2": {"datum": 70}
      }
    },
    {
      "data": {"values": [{"lvl": 70}, {"lvl": 50}, {"lvl": 30}]},
      "mark": {"type": "rule", "strokeDash": [4, 4], "strokeWidth": 1},
      "encoding": {
        "y": {"field": "lvl", "type": "quantitative"},
        "color": {"condition": {"test": "datum.lvl === 50", "value": "#b2b5be"}, "value": "#787b86"}
      }
    },
    {
      "data": {"values": [{}]},
      "mark": {"type": "rule", "color": "#4a4a4a", "strokeWidth": 2},
      "encoding": {"x": {"datum": 83, "type": "quantitative"}, "x2": {"datum": 223}, "y": {"datum": 77.66, "type": "quantitative"}}
    },
    {
      "data": {"name": "rsi"},
      "mark": {"type": "line", "color": "#7e57c2", "strokeWidth": 1.6, "clip": true},
      "encoding": {"x": {"field": "i", "type": "quantitative"}, "y": {"field": "r", "type": "quantitative"}}
    },
    {
      "data": {"values": [{"at": 77.1, "c": "k"}, {"at": 66.2, "c": "p"}]},
      "mark": {"type": "rule", "strokeCap": "butt", "strokeWidth": 16},
      "encoding": {
        "x": {"datum": 223.0, "type": "quantitative"},
        "x2": {"datum": 229.8},
        "y": {"field": "at", "type": "quantitative"},
        "color": {"condition": {"test": "datum.c === 'k'", "value": "#000000"}, "value": "#7e57c2"}
      }
    },
    {
      "data": {"values": [{"at": 77.1, "t": "77.66"}, {"at": 66.2, "t": "66.10"}]},
      "mark": {"type": "text", "align": "left", "baseline": "middle", "fontSize": 12, "color": "#ffffff"},
      "encoding": {
        "x": {"datum": 223.6, "type": "quantitative"},
        "y": {"field": "at", "type": "quantitative"},
        "text": {"field": "t"}
      }
    },
    {
      "data": {"values": [
        {"x": -12.78, "t": "RSI (14, close)", "c": "k"},
        {"x": 0.15, "t": "66.10", "c": "p"},
        {"x": 5.9, "t": "\u2205 \u2205 \u2205 \u2205", "c": "k"}
      ]},
      "mark": {"type": "text", "align": "left", "baseline": "middle", "fontSize": 11.5},
      "encoding": {
        "x": {"field": "x", "type": "quantitative"},
        "y": {"datum": 73.8, "type": "quantitative"},
        "text": {"field": "t"},
        "color": {"condition": {"test": "datum.c === 'p'", "value": "#7e57c2"}, "value": "#131722"}
      }
    },
    {
      "data": {"values": [{}]},
      "mark": {"type": "rule", "color": "#e00000", "strokeWidth": 1},
      "encoding": {"x": {"datum": 223, "type": "quantitative"}}
    }
  ]
},
{
  "width": 1534, "height": 31,
  "title": {"text": "TradingView", "orient": "bottom", "anchor": "start", "offset": 16, "dx": 22, "fontSize": 14, "font": "Liberation Sans", "fontWeight": "normal", "color": "#131722"},
  "layer": [
    {
      "data": {"values": [{}]},
      "mark": {"type": "point", "opacity": 0},
      "encoding": {
        "x": {"datum": 0, "type": "quantitative", "scale": {"domain": [-14.06, 223], "nice": false, "zero": false, "padding": 0},
              "axis": {"orient": "bottom", "values": [0, 20, 43, 65, 86, 109, 130, 151, 173, 193, 214], "domain": true, "domainColor": "#e00000", "domainWidth": 1.5, "labelPadding": 8,
                       "labelExpr": "datum.value == 0 ? 'Jun' : datum.value == 20 ? 'Jul' : datum.value == 43 ? 'Aug' : datum.value == 65 ? 'Sep' : datum.value == 86 ? 'Oct' : datum.value == 109 ? 'Nov' : datum.value == 130 ? 'Dec' : datum.value == 151 ? '2025' : datum.value == 173 ? 'Feb' : datum.value == 193 ? 'Mar' : 'Apr'",
                       "labelFontWeight": {"condition": {"test": "datum.value == 151", "value": "bold"}, "value": "normal"}}},
        "y": {"datum": 0, "type": "quantitative", "scale": {"domain": [-0.613, 0.387], "nice": false, "zero": false}, "axis": {"orient": "right", "values": [0], "format": ".2f", "labelPadding": 9, "labelAlign": "left"}}
      }
    },
    {
      "data": {"values": [{}]},
      "mark": {"type": "rule", "color": "#e00000", "strokeWidth": 1},
      "encoding": {"x": {"datum": 223, "type": "quantitative"}}
    }
  ]
}
],
"spacing": 0,
"bounds": "flush"
}
